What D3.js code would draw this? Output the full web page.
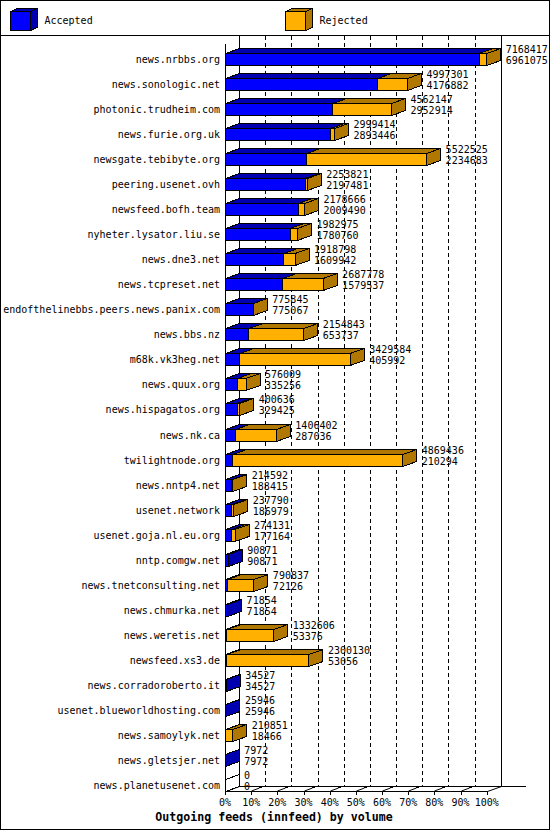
<!DOCTYPE html>
<html>
<head>
<meta charset="utf-8">
<script src="https://cdn.jsdelivr.net/npm/d3@7"></script>
<style>
  body { margin: 0; background: #fff; }
  svg { display: block; }
  text { font-family: "DejaVu Sans Mono", monospace; font-size: 10px; fill: #000; }
</style>
</head>
<body>
<script>
// innfeed outgoing volume per peer
const hosts = [
  'news.nrbbs.org', 'news.sonologic.net', 'photonic.trudheim.com', 'news.furie.org.uk',
  'newsgate.tebibyte.org', 'peering.usenet.ovh', 'newsfeed.bofh.team', 'nyheter.lysator.liu.se',
  'news.dne3.net', 'news.tcpreset.net', 'endofthelinebbs.peers.news.panix.com', 'news.bbs.nz',
  'm68k.vk3heg.net', 'news.quux.org', 'news.hispagatos.org', 'news.nk.ca',
  'twilightnode.org', 'news.nntp4.net', 'usenet.network', 'usenet.goja.nl.eu.org',
  'nntp.comgw.net', 'news.tnetconsulting.net', 'news.chmurka.net', 'news.weretis.net',
  'newsfeed.xs3.de', 'news.corradoroberto.it', 'usenet.blueworldhosting.com', 'news.samoylyk.net',
  'news.gletsjer.net', 'news.planetusenet.com'
];
const offered = [
  7168417, 4997301, 4562147, 2999414, 5522525, 2253821, 2178666, 1982975,
  1918798, 2687778, 775845, 2154843, 3429584, 576009, 400636, 1406402,
  4869436, 214592, 237790, 274131, 90871, 790837, 71854, 1332606,
  2300130, 34527, 25946, 210851, 7972, 0
];
const accepted = [
  6961075, 4176882, 2952914, 2893446, 2234683, 2197481, 2009490, 1780760,
  1609942, 1579537, 775067, 653737, 405992, 335256, 329425, 287036,
  210294, 188415, 186979, 177164, 90871, 72126, 71854, 53376,
  53056, 34527, 25946, 18466, 7972, 0
];
const tickValues = [0, 0.1, 0.2, 0.3, 0.4, 0.5, 0.6, 0.7, 0.8, 0.9, 1];
const seriesNames = ['Accepted', 'Rejected'];

const W = 550, H = 830;
const dx = 14, dy = 5;
const colors = { Accepted: ['#0000ff', '#0000b0'], Rejected: ['#ffb000', '#b07800'] };

const svg = d3.select('body').append('svg')
  .attr('width', W).attr('height', H)
  .attr('shape-rendering', 'crispEdges');

const maxVal = d3.max(offered);
const x = d3.scaleLinear().domain([0, 1]).range([225, 486.7]);
const y = d3.scaleBand().domain(hosts).range([41, 792]);

const plotTop = 36, floorY = 791, backY = floorY - dy;

// back wall grid
const grid = svg.append('g');
grid.selectAll('line.grid')
  .data(tickValues.slice(1, -1))
  .enter().append('line')
  .attr('x1', d => Math.round(x(d) + dx) + 0.5)
  .attr('x2', d => Math.round(x(d) + dx) + 0.5)
  .attr('y1', plotTop).attr('y2', backY)
  .attr('stroke', '#000').attr('stroke-dasharray', '4,3');

// axes frame
const axis = svg.append('g').attr('stroke', '#000').attr('fill', 'none');
const x0 = Math.round(x(0)) + 0.5, x1 = Math.round(x(1)) + 0.5;
axis.append('line').attr('x1', x0 + dx).attr('x2', x0 + dx).attr('y1', plotTop).attr('y2', backY + 0.5);
axis.append('line').attr('x1', x1 + dx).attr('x2', x1 + dx).attr('y1', plotTop).attr('y2', backY + 0.5);
axis.append('line').attr('x1', x0 + dx).attr('x2', 526).attr('y1', backY + 0.5).attr('y2', backY + 0.5);
axis.append('line').attr('x1', x0).attr('x2', x0).attr('y1', 44).attr('y2', floorY + 4);
axis.append('line').attr('x1', x0).attr('x2', x1).attr('y1', floorY + 0.5).attr('y2', floorY + 0.5);
axis.append('line').attr('x1', x0).attr('y1', floorY + 0.5).attr('x2', x0 + dx).attr('y2', backY + 0.5)
  .attr('shape-rendering', 'auto');
axis.append('line').attr('x1', x1).attr('y1', floorY + 0.5).attr('x2', x1 + dx).attr('y2', backY + 0.5)
  .attr('shape-rendering', 'auto');

// tick marks
const ticks = axis.selectAll('g.tick').data(tickValues.slice(1)).enter().append('g');
ticks.append('line')
  .attr('x1', d => Math.round(x(d)) + 0.5).attr('x2', d => Math.round(x(d)) + 0.5)
  .attr('y1', floorY).attr('y2', floorY + 4);
ticks.filter(d => d < 1).append('line')
  .attr('x1', d => Math.round(x(d)) + 0.5).attr('y1', floorY)
  .attr('x2', d => Math.round(x(d)) + 8.5).attr('y2', floorY - 3)
  .attr('shape-rendering', 'auto');
ticks.filter(d => d < 1).append('rect')
  .attr('x', d => Math.round(x(d)) + 8).attr('y', floorY - 5)
  .attr('width', 3).attr('height', 2).attr('fill', '#000').attr('stroke', 'none');

svg.append('g').selectAll('text')
  .data(tickValues).enter().append('text')
  .attr('x', d => x(d)).attr('y', 802)
  .attr('text-anchor', 'middle').attr('dominant-baseline', 'central')
  .text(d => Math.round(d * 100) + '%');

// 3D bar piece
function block(g, xa, xb, top, h, col, empty) {
  const pts = p => p.map(q => q.join(',')).join(' ');
  const front = empty ? '#fff' : col[0], dark = empty ? '#fff' : col[1];
  g.append('rect').attr('x', xa).attr('y', top).attr('width', xb - xa).attr('height', h)
    .attr('fill', front).attr('stroke', '#000');
  g.append('polygon')
    .attr('points', pts([[xa, top], [xa + dx, top - dy], [xb + dx, top - dy], [xb, top]]))
    .attr('fill', dark).attr('stroke', '#000');
  g.append('polygon')
    .attr('points', pts([[xb, top], [xb + dx, top - dy], [xb + dx, top + h - dy], [xb, top + h]]))
    .attr('fill', dark).attr('stroke', '#000');
}

const barH = 12;
const rows = svg.append('g');
hosts.forEach((h, i) => {
  const g = rows.append('g');
  const top = Math.round(y(h) + 12) + 0.5;
  const xa = x0;
  const xAcc = x(accepted[i] / maxVal);
  const xOff = x(offered[i] / maxVal);
  if (offered[i] === 0) {
    block(g, xa, xa, top, barH, colors.Accepted, true);
  } else {
    block(g, xa, xAcc, top, barH, colors.Accepted, false);
    if (offered[i] > accepted[i]) block(g, xAcc, xOff, top, barH, colors.Rejected, false);
  }
  const cy = top + barH / 2;
  g.append('text').attr('x', 220).attr('y', cy)
    .attr('text-anchor', 'end').attr('dominant-baseline', 'central').text(h);
  g.append('text').attr('x', xOff + 19).attr('y', cy - 10)
    .attr('dominant-baseline', 'central').text(offered[i]);
  g.append('text').attr('x', xOff + 19).attr('y', cy + 1)
    .attr('dominant-baseline', 'central').text(accepted[i]);
});

// legend
const legendX = [10.5, 285.5];
const legend = svg.append('g');
seriesNames.forEach((s, i) => {
  const g = legend.append('g');
  const lx = legendX[i];
  const col = colors[s];
  const pts = p => p.map(q => q.join(',')).join(' ');
  g.append('rect').attr('x', lx).attr('y', 11.5).attr('width', 20).attr('height', 19)
    .attr('fill', col[0]).attr('stroke', '#000');
  g.append('polygon').attr('points', pts([[lx, 11.5], [lx + 7, 8.5], [lx + 27, 8.5], [lx + 20, 11.5]]))
    .attr('fill', col[1]).attr('stroke', '#000');
  g.append('polygon').attr('points', pts([[lx + 20, 11.5], [lx + 27, 8.5], [lx + 27, 27.5], [lx + 20, 30.5]]))
    .attr('fill', col[1]).attr('stroke', '#000');
  g.append('text').attr('x', lx + 34).attr('y', 20).attr('dominant-baseline', 'central').text(s);
});

// frame, legend separator, title
svg.append('rect').attr('x', 0.5).attr('y', 0.5).attr('width', W - 1).attr('height', H - 1)
  .attr('fill', 'none').attr('stroke', '#000');
svg.append('line').attr('x1', 0).attr('x2', W).attr('y1', 35.5).attr('y2', 35.5).attr('stroke', '#000');
svg.append('text').attr('x', 274).attr('y', 817)
  .attr('text-anchor', 'middle').attr('dominant-baseline', 'central')
  .style('font-weight', 'bold').style('font-size', '11.6px')
  .text('Outgoing feeds (innfeed) by volume');
</script>
</body>
</html>
